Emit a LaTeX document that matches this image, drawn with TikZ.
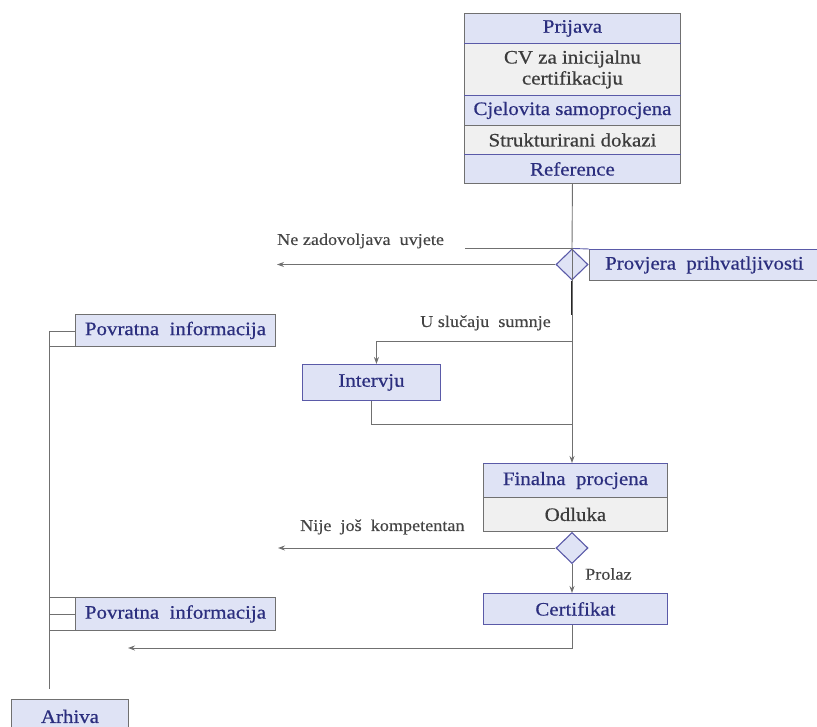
\documentclass[tikz,border=0pt]{standalone}
\usepackage{fontspec}
\usetikzlibrary{shapes.geometric,arrows.meta}
\newfontfamily\diagfont[FakeStretch=1.1,FakeBold=0.6]{Liberation Serif}
\newfontfamily\labfont[FakeStretch=1.1,FakeBold=0.3]{Liberation Serif}
\newcommand\bxfont{\diagfont\fontsize{19}{21}\selectfont}
\newcommand\lbfont{\labfont\fontsize{16.5}{18}\selectfont}
\definecolor{boxblue}{HTML}{DFE3F5}
\definecolor{boxgray}{HTML}{F0F0F0}
\definecolor{navy}{HTML}{2B2E7E}
\definecolor{textgray}{HTML}{3C3C3C}
\definecolor{lblgray}{HTML}{444444}
\definecolor{linegray}{HTML}{707070}
\definecolor{lineblue}{HTML}{5A5AA8}
\tikzset{
  bluebox/.style={draw=linegray, fill=boxblue, text=navy, inner sep=0pt, anchor=north west, font=\bxfont, line width=0.9pt},
  graybox/.style={draw=linegray, fill=boxgray, text=textgray, inner sep=0pt, anchor=north west, font=\bxfont, align=center, line width=0.9pt},
  lbl/.style={text=lblgray, font=\lbfont, inner sep=0pt},
  conn/.style={draw=linegray, line width=0.9pt},
  arr/.style={conn, -{Stealth[length=7pt,width=5pt]}},
  dec/.style={diamond, draw=lineblue, fill=boxblue, minimum width=32pt, minimum height=31pt, inner sep=0pt, line width=1.1pt},
  blueline/.style={draw=lineblue, line width=0.9pt}
}
\begin{document}
\begin{tikzpicture}[x=1pt,y=-1pt]
\useasboundingbox (0,0) rectangle (817,727);
% top stack
\node[bluebox, minimum width=216pt, minimum height=30pt] (prijava) at (464,13) {Prijava};
\node[graybox, minimum width=216pt, minimum height=52pt] (cv) at (464,43) {CV za inicijalnu\\certifikaciju};
\node[bluebox, minimum width=216pt, minimum height=30pt] (cjel) at (464,95) {Cjelovita samoprocjena};
\node[graybox, minimum width=216pt, minimum height=29pt] (strk) at (464,125) {Strukturirani dokazi};
\node[bluebox, minimum width=216pt, minimum height=29pt] (ref) at (464,154) {Reference};
\draw[blueline] (prijava.south west) -- (prijava.south east);
\draw[blueline] (cjel.north west) -- (cjel.north east);
\draw[blueline] (ref.north west) -- (ref.north east);
% decision 1
\node[bluebox, minimum width=230pt, minimum height=31pt] (prov) at (589,249) {Provjera\ \ prihvatljivosti};
\node[dec] (d1) at (572,264.5) {};
\coordinate (t1) at ([xshift=-107pt]d1.north);
\draw[conn] (t1) -- (d1.north);
\draw[blueline] (d1.north) -- (prov.north west);
\draw[blueline] (prov.north west) -- (prov.north east);
\draw[conn] (ref.south) -- (d1.north);
\draw[conn] (d1.north) -- (d1.south);
\coordinate (l1) at (277,264.5);
\draw[arr] (d1.west) -- (l1);
\draw[line width=1.6pt, black!85] (d1.south) -- ++(0,34);
\node[lbl, anchor=west] (nzlbl) at (277,241) {Ne zadovoljava\ \ uvjete};
% intervju
\node[bluebox, draw=lineblue, minimum width=138pt, minimum height=36pt] (intv) at (302,364) {Intervju};
\coordinate (br) at (572,341);
\coordinate (br2) at (572,424);
\draw[arr] (br) -| ([xshift=5pt]intv.north);
\draw[conn] (intv.south) |- (br2);
\node[lbl, anchor=east] (uss) at (551,323) {U slučaju\ \ sumnje};
% final
\node[bluebox, minimum width=184pt, minimum height=34pt] (final) at (483,463) {Finalna\ \ procjena};
\node[graybox, minimum width=184pt, minimum height=34pt] (odl) at (483,497) {Odluka};
\draw[blueline] (final.north west) -- (final.north east);
\draw[arr] (d1.south) -- (final.north -| d1.south);
% decision 2
\node[dec] (d2) at (572,548) {};
\coordinate (l2) at (278,548);
\draw[arr] (d2.west) -- (l2);
\node[lbl, anchor=west] (njk) at (300,527) {Nije\ \ još\ \ kompetentan};
\node[bluebox, draw=lineblue, minimum width=184pt, minimum height=31pt] (cert) at (483,593) {Certifikat};
\draw[arr] (d2.south) -- (cert.north -| d2.south);
\node[lbl, anchor=west] (prl) at (585,574) {Prolaz};
\coordinate (l3) at (128,648);
\draw[arr] (cert.south -| d2.south) |- (l3);
% feedback boxes
\node[bluebox, minimum width=200pt, minimum height=32pt] (pv1) at (75,314) {Povratna\ \ informacija};
\node[bluebox, minimum width=200pt, minimum height=33pt] (pv2) at (75,597) {Povratna\ \ informacija};
\coordinate (a1) at (49.5,331);
\coordinate (a2) at (49.5,689);
\draw[conn] (a1) -- (a2);
\draw[conn] (a1) -- (a1 -| pv1.west);
\draw[conn] (pv1.south west -| a1) -- (pv1.south west);
\draw[conn] (pv2.north west -| a1) -- (pv2.north west);
\draw[conn] (pv2.west -| a1) -- (pv2.west);
\draw[conn] (pv2.south west -| a1) -- (pv2.south west);
% archive
\node[bluebox, minimum width=117pt, minimum height=34pt] (arh) at (11,699) {Arhiva};
\end{tikzpicture}
\end{document}
